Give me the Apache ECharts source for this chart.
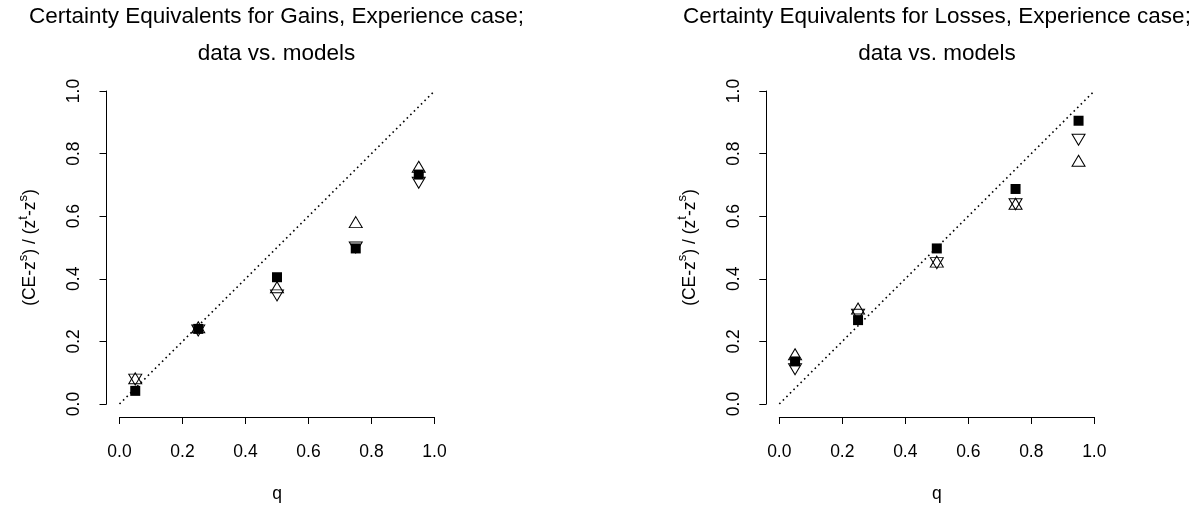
<!DOCTYPE html>
<html>
<head>
<meta charset="utf-8">
<script src="https://cdn.jsdelivr.net/npm/echarts@6/dist/echarts.min.js"></script>
<style>
  html, body { margin: 0; padding: 0; background: #fff; }
  #chart { width: 1204px; height: 508px; }
</style>
</head>
<body>
<div id="chart"></div>
<script>
// probabilities q
const q = [0.05, 0.25, 0.5, 0.75, 0.95]
const tickLabels = ['0.0', '0.2', '0.4', '0.6', '0.8', '1.0']

// Gains panel
const gainsData = [0.042, 0.24, 0.405, 0.497, 0.733]
const gainsUp = [0.082, 0.245, 0.373, 0.581, 0.758]
const gainsDown = [0.078, 0.235, 0.347, 0.5, 0.707]

// Losses panel
const lossesData = [0.136, 0.268, 0.497, 0.687, 0.905]
const lossesUp = [0.159, 0.305, 0.455, 0.64, 0.777]
const lossesDown = [0.111, 0.285, 0.45, 0.638, 0.844]

const diagonal = [[0, 0], [1, 1]]

const titles = [
  'Certainty Equivalents for Gains, Experience case;',
  'Certainty Equivalents for Losses, Experience case;'
]

const FONT = 'Liberation Sans, Arial, Helvetica, sans-serif'
const chart = echarts.init(document.getElementById('chart'))

const panels = [
  { left: 119.5, center: 276.5, data: gainsData, up: gainsUp, down: gainsDown },
  { left: 779.3, center: 937, data: lossesData, up: lossesUp, down: lossesDown }
]

const fmt = v => tickLabels[Math.round(v * 5)]

const axisCommon = {
  type: 'value',
  min: 0,
  max: 1,
  interval: 0.2,
  offset: 13,
  splitLine: { show: false },
  axisLine: { show: true, onZero: false, lineStyle: { color: '#000', width: 1 } },
  axisTick: { show: true, length: 7, lineStyle: { color: '#000' } },
  axisLabel: { color: '#000', fontSize: 17.5, fontFamily: FONT, margin: 26, formatter: fmt },
  nameLocation: 'middle',
  nameTextStyle: { color: '#000', fontSize: 17.5, fontFamily: FONT }
}

const option = {
  animation: false,
  backgroundColor: '#fff',
  title: [],
  grid: [],
  xAxis: [],
  yAxis: [],
  series: []
}

panels.forEach((p, i) => {
  option.title.push({
    text: titles[i],
    left: p.center, top: 5, padding: 0, textAlign: 'center',
    textStyle: { fontSize: 22.5, fontWeight: 'normal', color: '#000', fontFamily: FONT }
  })
  option.title.push({
    text: 'data vs. models',
    left: p.center, top: 42, padding: 0, textAlign: 'center',
    textStyle: { fontSize: 22.5, fontWeight: 'normal', color: '#000', fontFamily: FONT }
  })
  option.grid.push({ left: p.left, width: 315, top: 91, height: 313.5 })
  option.xAxis.push(Object.assign({}, axisCommon, {
    gridIndex: i,
    name: 'q',
    nameGap: 68
  }))
  option.yAxis.push(Object.assign({}, axisCommon, {
    gridIndex: i,
    axisLabel: Object.assign({}, axisCommon.axisLabel, { rotate: 90, margin: 23 }),
    name: '(CE-z{sup|s}) / (z{sup|t}-z{sup|s})',
    nameGap: 62,
    nameTextStyle: {
      color: '#000', fontSize: 17.5, fontFamily: FONT, lineHeight: 28,
      rich: { sup: { fontSize: 13, fontFamily: FONT, color: '#000', verticalAlign: 'top', lineHeight: 13 } }
    }
  }))
  option.series.push({
    type: 'line', xAxisIndex: i, yAxisIndex: i,
    data: diagonal, symbol: 'none', silent: true,
    lineStyle: { color: '#000', width: 1.6, type: [1.6, 3.4] }
  })
  option.series.push({
    type: 'scatter', xAxisIndex: i, yAxisIndex: i,
    data: q.map((x, k) => [x, p.data[k]]),
    symbol: 'rect', symbolSize: 10,
    itemStyle: { color: '#000', opacity: 1 }
  })
  option.series.push({
    type: 'scatter', xAxisIndex: i, yAxisIndex: i,
    data: q.map((x, k) => [x, p.up[k]]),
    symbol: 'triangle', symbolSize: [13, 11],
    itemStyle: { color: 'none', borderColor: '#000', borderWidth: 1, opacity: 1 }
  })
  option.series.push({
    type: 'scatter', xAxisIndex: i, yAxisIndex: i,
    data: q.map((x, k) => [x, p.down[k]]),
    symbol: 'triangle', symbolRotate: 180, symbolSize: [13, 11],
    itemStyle: { color: 'none', borderColor: '#000', borderWidth: 1, opacity: 1 }
  })
})

chart.setOption(option)
</script>
</body>
</html>
